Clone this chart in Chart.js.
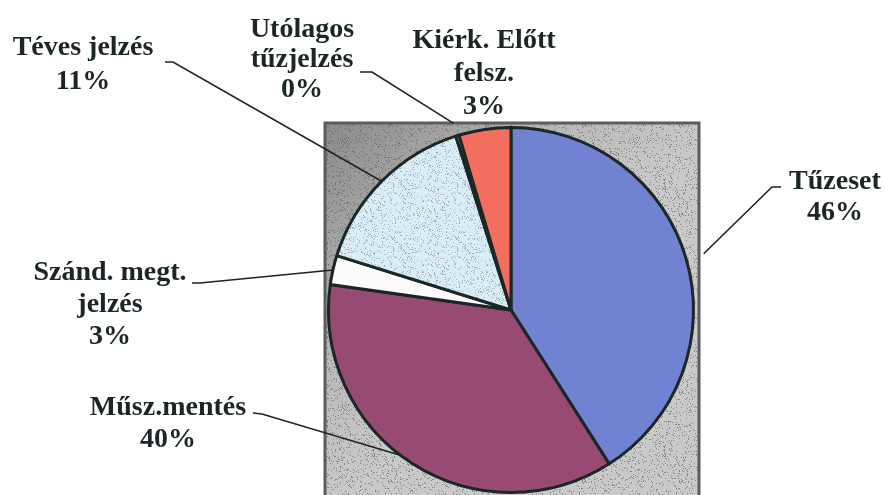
<!DOCTYPE html>
<html>
<head>
<meta charset="utf-8">
<script src="https://cdn.jsdelivr.net/npm/chart.js@4/dist/chart.umd.min.js"></script>
<style>
html,body{margin:0;padding:0;background:#fff;}
#wrap{width:885px;height:495px;position:relative;}
</style>
</head>
<body>
<div id="wrap"><canvas id="c"></canvas></div>
<script>
// ---- data ----
const categories = ['Tűzeset', 'Műsz.mentés', 'Szánd. megt. jelzés', 'Téves jelzés', 'Utólagos tűzjelzés', 'Kiérk. Előtt felsz.'];
const sliceValues = [41.0, 36.3, 2.6, 15.3, 0.3, 4.6];          // slice sizes as drawn
const percentLabels = ['46%', '40%', '3%', '11%', '0%', '3%'];  // percentages printed on the chart
const labelLines = [['Tűzeset'], ['Műsz.mentés'], ['Szánd. megt.', 'jelzés'], ['Téves jelzés'], ['Utólagos', 'tűzjelzés'], ['Kiérk. Előtt', 'felsz.']];

// ---- layout / style ----
const labelLayout = [
  {x: 835, y: 182, gap: 31, lead: [[781, 187], [772, 187]], r: 1.1, da: 0},
  {x: 168, y: 408, gap: 32, lead: [[253, 413], [262, 414]], r: 1.0, da: 0.08},
  {x: 110, y: 273, gap: 32, lead: [[192, 283], [200, 283]], r: 1.0, da: 0},
  {x: 83,  y: 48,  gap: 34, lead: [[165, 62], [173, 62]], r: 1.0, da: 0},
  {x: 302, y: 30,  gap: 30, lead: [[360, 72], [372, 72]], r: 1.07, da: 0},
  {x: 484, y: 41,  gap: 33, lead: null, r: 1.0, da: 0}
];

function hash(i, j, s) {
  const v = Math.sin(i * 127.1 + j * 311.7 + s * 74.7) * 43758.5453;
  return v - Math.floor(v);
}
function speckle(base, dot, w, h, density, seed) {
  const c = document.createElement('canvas');
  c.width = w; c.height = h;
  const g = c.getContext('2d');
  g.fillStyle = base; g.fillRect(0, 0, w, h);
  g.fillStyle = dot;
  for (let i = 0; i < w; i++) for (let j = 0; j < h; j++) {
    if (hash(i, j, seed) < density) g.fillRect(i, j, 1, 1);
  }
  return c;
}
const ctxTmp = document.createElement('canvas').getContext('2d');
const lightBluePattern = ctxTmp.createPattern(speckle('#d8edf7', '#a2adb4', 64, 64, 0.1, 1), 'repeat');

const colors = ['#7282d2', '#974a72', '#fbfbfb', lightBluePattern, '#cfe6f1', '#f26f5f'];

const bgPlugin = {
  id: 'bgSquare',
  beforeDatasetsDraw(chart) {
    const {ctx, chartArea: a} = chart;
    const x0 = a.left - 2, y0 = a.top - 3, x1 = a.right + 4, y1 = chart.height;
    ctx.save();
    const grd = ctx.createLinearGradient(x0, y0, x0 + 200, y0 + 200);
    grd.addColorStop(0, '#8a8a8a');
    grd.addColorStop(0.6, '#b9b9b9');
    grd.addColorStop(1, '#c9c9c9');
    ctx.fillStyle = grd;
    ctx.fillRect(x0, y0, x1 - x0, y1 - y0);
    const tex = ctx.createPattern(speckle('rgba(0,0,0,0)', 'rgba(80,80,80,0.55)', 97, 89, 0.1, 7), 'repeat');
    ctx.fillStyle = tex;
    ctx.fillRect(x0, y0, x1 - x0, y1 - y0);
    ctx.strokeStyle = '#5c5c5c';
    ctx.lineWidth = 3;
    ctx.strokeRect(x0, y0, x1 - x0, y1 - y0 + 3);
    ctx.restore();
  }
};

const labelPlugin = {
  id: 'outLabels',
  afterDatasetsDraw(chart) {
    const {ctx} = chart;
    const arcs = chart.getDatasetMeta(0).data;
    ctx.save();
    arcs.forEach((arc, i) => {
      const L = labelLayout[i];
      if (L.lead) {
        const mid = (arc.startAngle + arc.endAngle) / 2 + L.da;
        const R = arc.outerRadius * L.r;
        const px = arc.x + Math.cos(mid) * R, py = arc.y + Math.sin(mid) * R;
        ctx.strokeStyle = '#1d2424';
        ctx.lineWidth = 1.6;
        ctx.beginPath();
        ctx.moveTo(L.lead[0][0], L.lead[0][1]);
        ctx.lineTo(L.lead[1][0], L.lead[1][1]);
        ctx.lineTo(px, py);
        ctx.stroke();
      }
      ctx.fillStyle = '#1c2626';
      ctx.font = 'bold 28px "Liberation Serif", "Times New Roman", serif';
      ctx.textAlign = 'center';
      ctx.textBaseline = 'middle';
      const lines = labelLines[i].concat([percentLabels[i]]);
      lines.forEach((t, k) => ctx.fillText(t, L.x, L.y + k * L.gap));
    });
    ctx.restore();
  }
};

new Chart(document.getElementById('c'), {
  type: 'pie',
  data: {
    labels: categories,
    datasets: [{
      data: sliceValues,
      backgroundColor: colors,
      borderColor: '#1c2626',
      borderWidth: 3
    }]
  },
  options: {
    responsive: true,
    maintainAspectRatio: false,
    animation: false,
    layout: {padding: {left: 327, right: 190, top: 126, bottom: 1}},
    plugins: {legend: {display: false}, tooltip: {enabled: false}}
  },
  plugins: [bgPlugin, labelPlugin]
});
</script>
</body>
</html>
